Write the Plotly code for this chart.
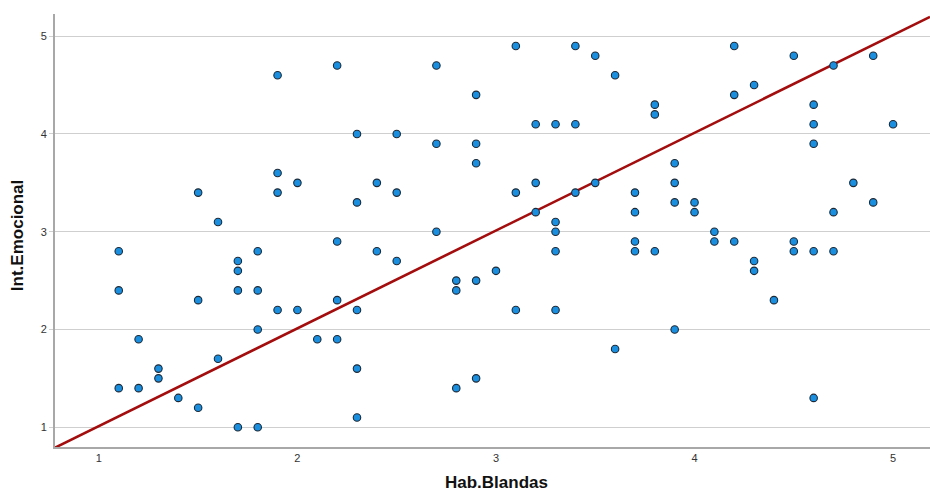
import plotly.graph_objects as go

# Hab.Blandas (x) and Int.Emocional (y) values
hab_blandas = [
    1.1, 1.1, 1.1,
    1.2, 1.2,
    1.3, 1.3,
    1.4,
    1.5, 1.5, 1.5,
    1.6, 1.6,
    1.7, 1.7, 1.7, 1.7,
    1.8, 1.8, 1.8, 1.8,
    1.9, 1.9, 1.9, 1.9,
    2.0, 2.0,
    2.1,
    2.2, 2.2, 2.2, 2.2,
    2.3, 2.3, 2.3, 2.3, 2.3,
    2.4, 2.4,
    2.5, 2.5, 2.5,
    2.7, 2.7, 2.7,
    2.8, 2.8, 2.8,
    2.9, 2.9, 2.9, 2.9, 2.9,
    3.0,
    3.1, 3.1, 3.1,
    3.2, 3.2, 3.2,
    3.3, 3.3, 3.3, 3.3, 3.3,
    3.4, 3.4, 3.4,
    3.5, 3.5,
    3.6, 3.6,
    3.7, 3.7, 3.7, 3.7,
    3.8, 3.8, 3.8,
    3.9, 3.9, 3.9, 3.9,
    4.0, 4.0,
    4.1, 4.1,
    4.2, 4.2, 4.2,
    4.3, 4.3, 4.3,
    4.4,
    4.5, 4.5, 4.5,
    4.6, 4.6, 4.6, 4.6, 4.6,
    4.7, 4.7, 4.7,
    4.8,
    4.9, 4.9,
    5.0,
]
int_emocional = [
    2.8, 2.4, 1.4,
    1.9, 1.4,
    1.6, 1.5,
    1.3,
    3.4, 2.3, 1.2,
    3.1, 1.7,
    2.7, 2.6, 2.4, 1.0,
    2.8, 2.4, 2.0, 1.0,
    4.6, 3.6, 3.4, 2.2,
    3.5, 2.2,
    1.9,
    4.7, 2.9, 2.3, 1.9,
    4.0, 3.3, 2.2, 1.6, 1.1,
    3.5, 2.8,
    4.0, 3.4, 2.7,
    4.7, 3.9, 3.0,
    2.5, 2.4, 1.4,
    4.4, 3.9, 3.7, 2.5, 1.5,
    2.6,
    4.9, 3.4, 2.2,
    4.1, 3.5, 3.2,
    4.1, 3.1, 3.0, 2.8, 2.2,
    4.9, 4.1, 3.4,
    4.8, 3.5,
    4.6, 1.8,
    3.4, 3.2, 2.9, 2.8,
    4.3, 4.2, 2.8,
    3.7, 3.5, 3.3, 2.0,
    3.3, 3.2,
    3.0, 2.9,
    4.9, 4.4, 2.9,
    4.5, 2.7, 2.6,
    2.3,
    4.8, 2.9, 2.8,
    4.3, 4.1, 3.9, 2.8, 1.3,
    4.7, 3.2, 2.8,
    3.5,
    4.8, 3.3,
    4.1,
]

# fit line
fit_intercept = 0.012
fit_slope = 1.0

x_range = [0.779, 5.186]
y_range = [0.798, 5.227]
tick_vals = [1, 2, 3, 4, 5]

line_x = x_range
line_y = [fit_intercept + fit_slope * v for v in line_x]

fig = go.Figure()
fig.add_trace(go.Scatter(
    x=line_x, y=line_y, mode="lines",
    line=dict(color="#a30d0d", width=2.6),
    hoverinfo="skip", showlegend=False,
))
fig.add_trace(go.Scatter(
    x=hab_blandas, y=int_emocional, mode="markers",
    marker=dict(size=7.5, color="#1a8fe0", line=dict(color="#1c2a38", width=1.1)),
    showlegend=False,
))

fig.update_layout(
    width=930, height=496,
    margin=dict(l=55, r=0, t=14, b=49),
    paper_bgcolor="white", plot_bgcolor="white",
    font=dict(family="Liberation Sans, Arial, sans-serif", size=11, color="#333333"),
    xaxis=dict(
        range=x_range, tickvals=tick_vals, showgrid=False, zeroline=False,
        showline=True, linecolor="#a8a8a8", linewidth=2,
        ticks="", ticklen=0, tickfont=dict(size=11, color="#333333"),
    ),
    yaxis=dict(
        range=y_range, tickvals=tick_vals, showgrid=True, gridcolor="#cfcfcf", gridwidth=1,
        zeroline=False, showline=True, linecolor="#a8a8a8", linewidth=2,
        ticks="outside", ticklen=4, tickcolor="#d0d0d0",
        tickfont=dict(size=11, color="#333333"),
    ),
    annotations=[
        dict(text="<b>Hab.Blandas</b>", xref="paper", yref="paper", x=0.505, y=-0.083,
             xanchor="center", yanchor="middle", showarrow=False,
             font=dict(family="Liberation Sans, Arial, sans-serif", size=17, color="#111111")),
        dict(text="<b>Int.Emocional</b>", xref="paper", yref="paper", x=-0.0434, y=0.487,
             xanchor="center", yanchor="middle", showarrow=False, textangle=-90,
             font=dict(family="Liberation Sans Narrow, Arial Narrow, sans-serif", size=17, color="#111111")),
    ],
)

fig.write_html(
    "out.html",
    config={"displayModeBar": False},
    post_script="document.body.style.margin='0px';document.body.style.padding='0px';",
)
